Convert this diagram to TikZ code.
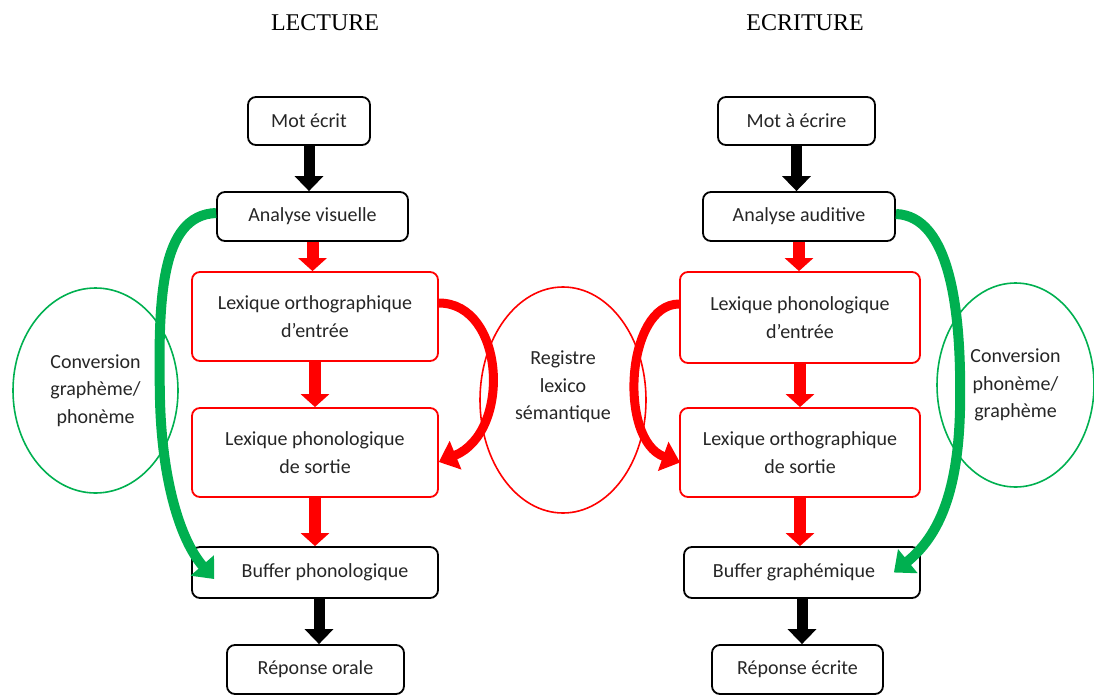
\documentclass[tikz,border=0pt]{standalone}
\usepackage{fontspec}
\setmainfont{Carlito}
\newfontfamily\titlefont{Liberation Serif}
\usetikzlibrary{arrows.meta,shapes.geometric}
\definecolor{offred}{RGB}{255,0,0}
\definecolor{offgreen}{RGB}{0,176,80}

\begin{document}
\begin{tikzpicture}[x=1pt, y=-1pt,
  every node/.style={font=\fontsize{20}{27.5}\selectfont, text=black!85},
  b/.style={draw, line width=1.8pt, rounded corners=8pt, align=center, inner sep=0pt},
  rb/.style={b, draw=offred},
  el/.style={ellipse, draw, line width=1.6pt, align=center, inner sep=0pt},
  flow/.style={line width=11pt, -{Triangle[width=28pt,length=15pt]}},
  rflow/.style={line width=12pt, offred, -{Triangle[width=28pt,length=13pt]}},
  curvearrow/.style={line width=9pt, -{Triangle[width=30pt,length=18pt]}}]
  \useasboundingbox (0,0) rectangle (1094,696);
  % titles
  \node[font=\titlefont\fontsize{24}{24}\selectfont, text=black] (lect) at (325,23) {LECTURE};
  \node[font=\titlefont\fontsize{24}{24}\selectfont, text=black] (ecri) at (805,23) {ECRITURE};
  % lecture
  \node[b, minimum width=122pt, minimum height=48pt] (motEcrit) at (309,121) {Mot écrit};
  \node[b, minimum width=191pt, minimum height=49pt] (anaVis) at (312.5,216.5) {Analyse visuelle};
  \node[rb, minimum width=246pt, minimum height=89pt] (lexOrthE) at (315,316.5) {Lexique orthographique\\d’entrée};
  \node[rb, minimum width=246pt, minimum height=89pt] (lexPhonS) at (315,452.5) {Lexique phonologique\\de sortie};
  \node[b, minimum width=246pt, minimum height=51pt] (bufPhon) at (315,572.5) {\hspace*{20pt}Buffer phonologique};
  \node[b, minimum width=177pt, minimum height=49pt] (repOrale) at (315.5,669.5) {Réponse orale};
  % ecriture
  \node[b, minimum width=157pt, minimum height=48pt] (motAEcrire) at (796.5,121) {Mot à écrire};
  \node[b, minimum width=192pt, minimum height=49pt] (anaAud) at (799,216.5) {Analyse auditive};
  \node[rb, minimum width=240pt, minimum height=91pt] (lexPhonE) at (800,317.5) {Lexique phonologique\\d’entrée};
  \node[rb, minimum width=240pt, minimum height=89pt] (lexOrthS) at (800,452.5) {Lexique orthographique\\de sortie};
  \node[b, minimum width=236pt, minimum height=51pt] (bufGraph) at (802,572.5) {Buffer graphémique\hspace*{16pt}};
  \node[b, minimum width=171pt, minimum height=49pt] (repEcrite) at (797.5,669.5) {Réponse écrite};
  % ellipses
  \node[el, draw=offgreen, minimum width=165pt, minimum height=205pt] (convGP) at (95.5,390.5) {Conversion\\graphème/\\phonème};
  \node[el, draw=offred, minimum width=166pt, minimum height=226pt,
    label={[yshift=13pt, align=center]center:Registre\\lexico\\sémantique}] (registre) at (563,400) {};
  \node[el, draw=offgreen, minimum width=157pt, minimum height=204pt] (convPG) at (1015.5,385) {Conversion\\phonème/\\graphème};
  % straight arrows
  \draw[flow] (motEcrit.south) -- (motEcrit.south |- anaVis.north);
  \draw[rflow] (anaVis.south) -- (anaVis.south |- lexOrthE.north);
  \draw[rflow] (lexOrthE.south) -- (lexOrthE.south |- lexPhonS.north);
  \draw[rflow] (lexPhonS.south) -- (lexPhonS.south |- bufPhon.north);
  \draw[flow] ([xshift=4pt]bufPhon.south) -- ([xshift=4pt]bufPhon.south |- repOrale.north);
  \draw[flow] (motAEcrire.south) -- (motAEcrire.south |- anaAud.north);
  \draw[rflow] (anaAud.south) -- (anaAud.south |- lexPhonE.north);
  \draw[rflow] (lexPhonE.south) -- (lexPhonE.south |- lexOrthS.north);
  \draw[rflow] (lexOrthS.south) -- (lexOrthS.south |- bufGraph.north);
  \draw[flow] (bufGraph.south) -- (bufGraph.south |- repEcrite.north);
  % bent arrows
  \draw[curvearrow, offred] ([yshift=13.5pt]lexOrthE.east) .. controls (505,303) and (512,432) .. ([yshift=-9.5pt]lexPhonS.east);
  \draw[curvearrow, offred] ([yshift=13.5pt]lexPhonE.west) .. controls (626,304) and (618,440) .. ([xshift=1pt,yshift=-10pt]lexOrthS.west);
  \draw[curvearrow, offgreen, line width=10pt] ([yshift=3.5pt]anaVis.west) .. controls (160,215) and (158,300) .. (160,400) .. controls (162,480) and (180,540) .. ([xshift=23pt,yshift=-6.5pt]bufPhon.west);
  \draw[curvearrow, offgreen, line width=10pt] ([yshift=2.5pt]anaAud.east) .. controls (950,216) and (962,310) .. (960,410) .. controls (958,490) and (940,535) .. ([xshift=-27pt]bufGraph.east);
\end{tikzpicture}
\end{document}
